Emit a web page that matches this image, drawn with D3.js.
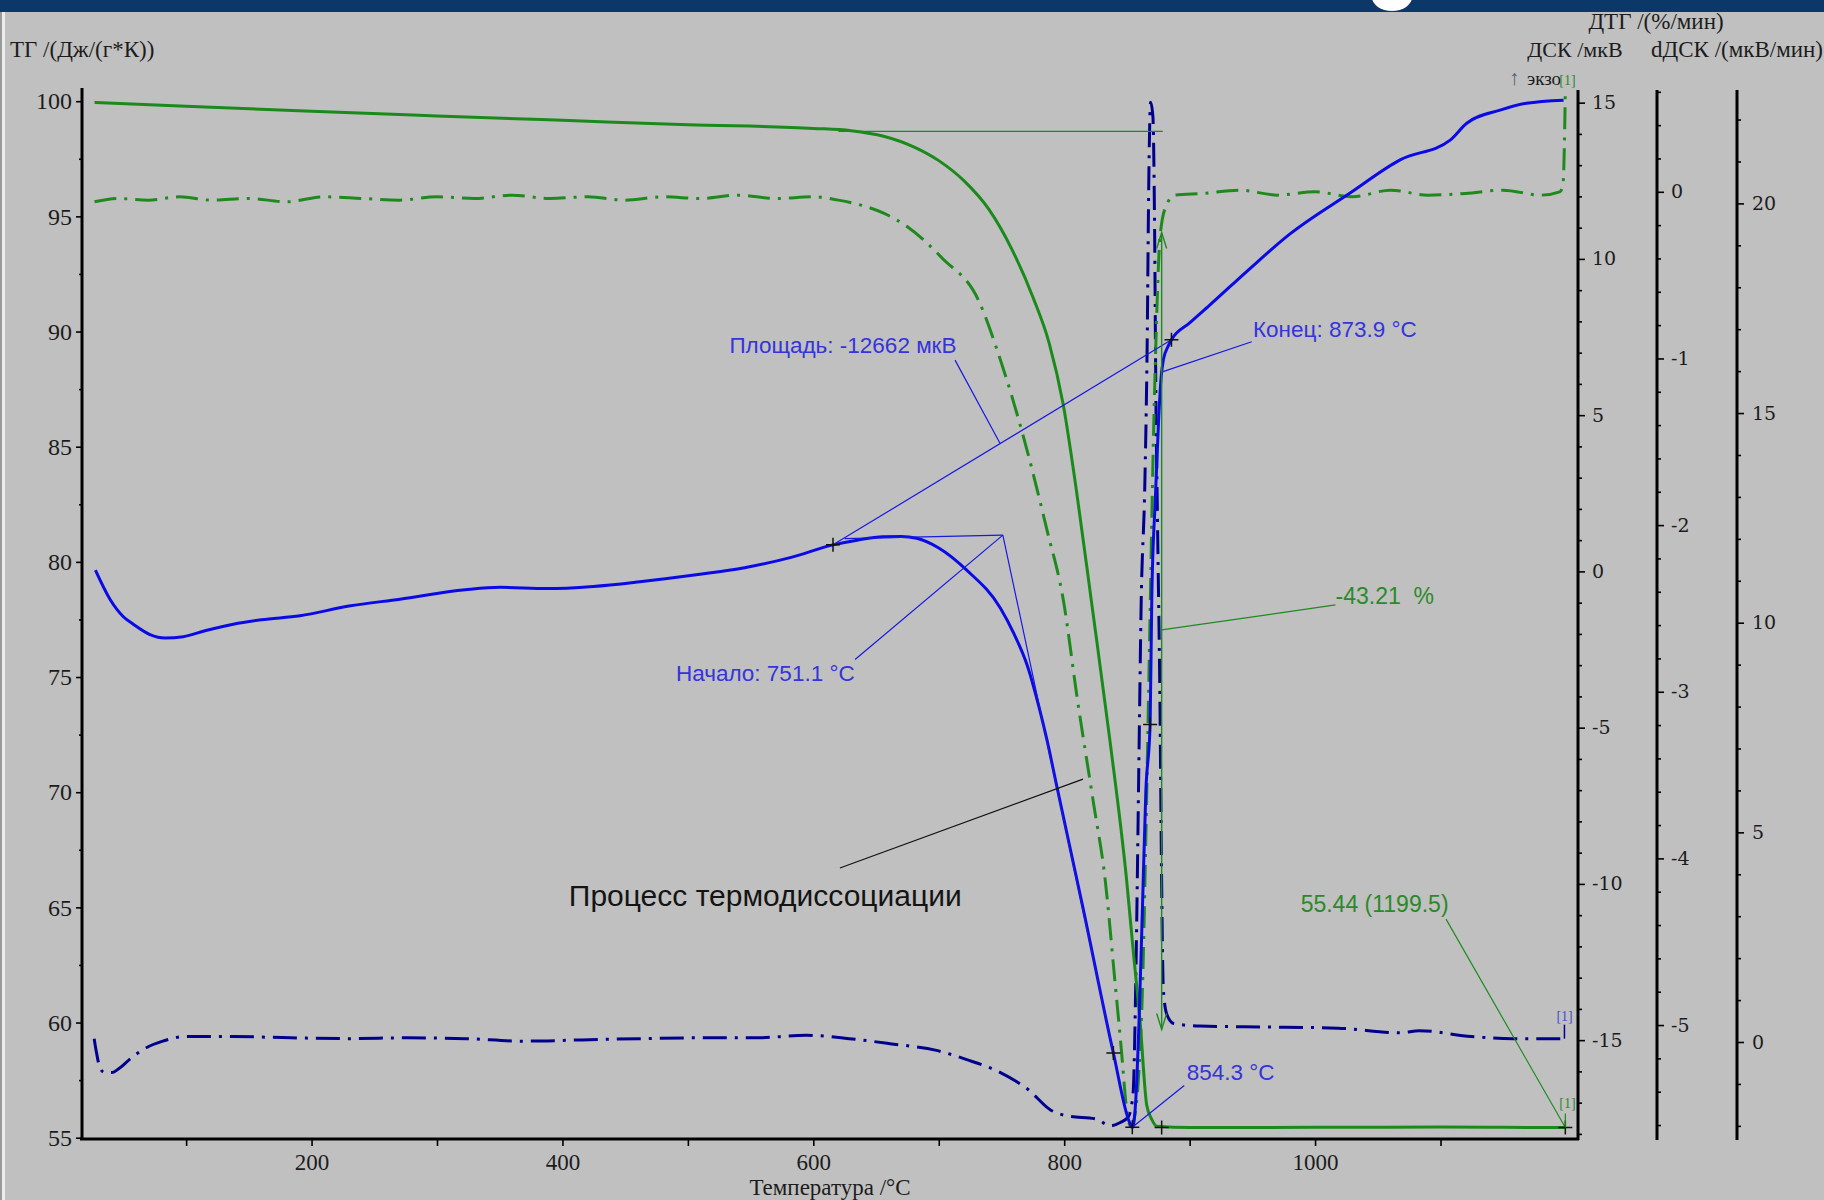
<!DOCTYPE html>
<html><head><meta charset="utf-8">
<script src="https://cdn.jsdelivr.net/npm/d3@7/dist/d3.min.js"></script>
<style>html,body{margin:0;padding:0;background:#c0c0c0;}svg{display:block;}</style>
</head><body><svg id="c" width="1824" height="1200"></svg>
<script>
// ---------------- DATA ----------------
// Temperature (°C) vs value pairs
const tgData = [[27,99.95],[100,99.78],[200,99.56],[300,99.36],[400,99.17],[500,98.98],[600,98.82],[630,98.72],[656,98.48],[680,98.02],[700,97.42],[720,96.55],[740,95.3],[758,93.6],[775,91.5],[788,89.5],[799,86.9],[810,83.0],[821.6,78.33],[836.4,72.27],[849.8,66.16],[855,63.13],[860.5,60.04],[865.8,56.41],[869.8,55.8],[873.8,55.5],[900,55.44],[1000,55.45],[1100,55.46],[1150,55.45],[1199.5,55.44]];
const dtgData = [[27,-0.06],[45,-0.04],[70,-0.05],[95,-0.03],[120,-0.05],[150,-0.04],[180,-0.06],[210,-0.03],[240,-0.04],[270,-0.05],[300,-0.03],[330,-0.04],[360,-0.02],[390,-0.04],[420,-0.03],[450,-0.05],[480,-0.03],[510,-0.04],[540,-0.02],[570,-0.04],[600,-0.03],[620,-0.05],[638,-0.08],[656.5,-0.13],[675,-0.21],[703,-0.4],[731.6,-0.65],[749.2,-1.01],[766.8,-1.45],[786.3,-2.03],[799.3,-2.45],[810.4,-3.04],[823.4,-3.67],[832.7,-4.13],[840.1,-4.71],[845.7,-5.16],[849.4,-5.48],[853.1,-5.61],[856.8,-5.52],[859.6,-5.27],[862.4,-4.78],[865.1,-3.87],[867.9,-2.76],[870.7,-1.64],[873.5,-0.8],[876.3,-0.28],[880.9,-0.09],[888.3,-0.02],[910,-0.01],[940,0.01],[970,-0.02],[1000,0.0],[1030,-0.03],[1060,0.01],[1090,-0.02],[1120,-0.01],[1150,0.01],[1180,-0.02],[1195,0.0],[1197.5,0.03],[1198.5,0.2],[1199.5,0.61]];
const dscData = [[27.7,0.04],[39.3,-0.89],[50,-1.45],[57.9,-1.69],[71.2,-2.02],[83.1,-2.13],[97.8,-2.09],[115,-1.9],[137.6,-1.69],[160,-1.55],[190.8,-1.42],[229.8,-1.11],[270.5,-0.89],[322.6,-0.59],[350.4,-0.51],[387.5,-0.55],[424.6,-0.48],[461.7,-0.33],[508.1,-0.1],[545.2,0.12],[582.3,0.45],[615.7,0.85],[635,1.0],[655.5,1.11],[670,1.12],[682.4,1.06],[700,0.75],[722.3,0.04],[749.2,-1.18],[760,-2.0],[770.5,-3.0],[780,-4.35],[786.3,-5.4],[793.7,-6.8],[815.1,-10.79],[839.2,-15.41],[852.2,-17.64],[854.5,-17.79],[856.8,-17.08],[859.6,-14.47],[862.4,-10.75],[865.1,-7.03],[868.5,-4.9],[869.8,-0.92],[872.6,2.28],[875.3,4.88],[877.2,6.18],[879.1,6.78],[882.7,7.19],[885.5,7.41],[900,7.95],[916,8.52],[948.3,9.7],[980,10.8],[1027.9,12.11],[1067.8,13.17],[1107.7,13.8],[1120.9,14.34],[1147.5,14.76],[1168.4,14.98],[1198.1,15.08]];
const ddscData = [[26.7,0.08],[28.6,-0.26],[31.4,-0.62],[35.1,-0.73],[40.6,-0.73],[47.1,-0.62],[55.5,-0.4],[67.5,-0.15],[81.4,0.02],[100,0.13],[137,0.13],[183.5,0.1],[229.8,0.08],[276.2,0.1],[322.6,0.08],[369,0.02],[415.3,0.05],[461.7,0.08],[508,0.1],[554.4,0.1],[594.3,0.16],[628.6,0.08],[661.1,-0.04],[698.2,-0.2],[722.3,-0.42],[749.2,-0.73],[771.5,-1.14],[789.1,-1.62],[802.1,-1.76],[826.2,-1.84],[836.4,-2.0],[844.7,-1.92],[851.2,-1.78],[854.9,-1.23],[857.7,2.66],[859.6,6.81],[861.4,10.53],[864.2,13.2],[866.1,16.53],[867.5,20.69],[868.9,22.41],[870.7,22.08],[872.1,19.3],[873,15.7],[874.4,12.37],[876.3,8.2],[877.6,4.04],[879,1.27],[881.8,0.66],[887.4,0.44],[907.8,0.38],[956,0.36],[1018.2,0.33],[1068.3,0.22],[1083,0.27],[1124.6,0.13],[1157.3,0.08],[1197.2,0.08]];

// tick labels
const xTicks = [200,400,600,800,1000];
const xMinorTicks = [100,300,500,700,900,1100];
const tgTicks = [55,60,65,70,75,80,85,90,95,100];
const dscTicks = [-15,-10,-5,0,5,10,15];
const dtgTicks = [-5,-4,-3,-2,-1,0];
const ddscTicks = [0,5,10,15,20];

// annotations (data units)
const dscSegments = [
  [[615.7,0.85],[885.5,7.41]],
  [[625,1.05],[751.1,1.16]],
  [[751.1,1.16],[839.2,-15.41]],
  [[633.3,-2.82],[751.1,1.16]],
  [[713,6.76],[748.8,4.10]],
  [[949.5,7.35],[876.4,6.36]],
  [[895.7,-16.45],[854.3,-17.79]]
];
const tgSegments = [
  [[620,98.69],[878.6,98.69]],
  [[877.7,77.05],[1016.3,78.13]],
  [[1104.4,64.49],[1199.5,55.44]]
];
const massArrow = [[877.7,94.3],[877.7,59.7]];
const processLeader = [[621.2,66.71],[815,70.57]];
const dscCrosses = [[615.7,0.85],[885.5,7.41],[839.2,-15.41],[868.5,-4.9],[854.3,-17.79]];
const tgCrosses = [[877.7,55.44],[1199.5,55.44]];
const dscLabels = [
  {t:533.1, v:7.23, text:"Площадь: -12662 мкВ"},
  {t:490.5, v:-3.27, text:"Начало: 751.1 °C"},
  {t:950.5, v:7.75, text:"Конец: 873.9 °C"},
  {t:897.6, v:-16.04, text:"854.3 °C"}
];
const tgLabels = [
  {t:1016.3, v:78.53, text:"-43.21\u00a0\u00a0%"},
  {t:988.5, v:65.15, text:"55.44 (1199.5)"}
];
const processLabel = {t:405.1, v:65.5, text:"Процесс термодиссоциации"};

// ---------------- CHART ----------------
const W = 1824, H = 1200;
const svg = d3.select('#c');
svg.append('rect').attr('width',W).attr('height',H).attr('fill','#c0c0c0');
// slide header strip
svg.append('rect').attr('width',W).attr('height',12).attr('fill','#0b3868');
svg.append('clipPath').attr('id','hdr').append('rect').attr('width',W).attr('height',12);
svg.append('ellipse').attr('clip-path','url(#hdr)').attr('cx',1392).attr('cy',-3).attr('rx',20).attr('ry',14).attr('fill','#ffffff');
// left frame line
svg.append('rect').attr('x',0).attr('y',12).attr('width',2).attr('height',H-12).attr('fill','#9a9a9a');
svg.append('rect').attr('x',2).attr('y',12).attr('width',3).attr('height',H-12).attr('fill','#ececec');

const x = d3.scaleLinear().domain([17,1209.6]).range([82,1578]);
const yTG = d3.scaleLinear().domain([55,100]).range([1137.7,101.2]);
const yDSC = d3.scaleLinear().domain([-15,15]).range([1040.15,102.65]);
const yDTG = d3.scaleLinear().domain([-5,0]).range([1025.05,191.8]);
const yDD = d3.scaleLinear().domain([0,20]).range([1042,203.4]);

const serif = "'Liberation Serif','Times New Roman',serif";
const serif2 = "'DejaVu Serif',Georgia,serif";
const sans = "'Liberation Sans',Arial,sans-serif";

function styleAxis(g, font, size){
  g.attr('font-family',font).attr('font-size',size);
  g.select('.domain').remove();
  g.selectAll('.tick line').attr('stroke','#000').attr('stroke-width',1.6);
  g.selectAll('.tick text').attr('fill','#1c1c1c');
}
function axisLine(x1,y1,x2,y2){
  svg.append('line').attr('x1',x1).attr('y1',y1).attr('x2',x2).attr('y2',y2)
    .attr('stroke','#000').attr('stroke-width',3);
}
const fmt = d => String(d);

// left axis (TG)
let g = svg.append('g').attr('transform','translate(82,0)');
g.call(d3.axisLeft(yTG).tickValues(tgTicks).tickSize(6).tickPadding(4).tickFormat(fmt));
styleAxis(g, serif, 24);
g = svg.append('g').attr('transform','translate(82,0)');
g.call(d3.axisLeft(yTG).tickValues(d3.range(57.5,100,5)).tickSize(3).tickFormat(''));
styleAxis(g, serif, 24);
axisLine(82,88,82,1140);

// bottom axis
g = svg.append('g').attr('transform','translate(0,1139)');
g.call(d3.axisBottom(x).tickValues(xTicks).tickSize(7).tickPadding(8).tickFormat(fmt));
styleAxis(g, serif, 23);
g = svg.append('g').attr('transform','translate(0,1139)');
g.call(d3.axisBottom(x).tickValues(xMinorTicks).tickSize(7).tickFormat(''));
styleAxis(g, serif, 23);
axisLine(80,1139,1579,1139);

// right axes
function rightAxis(xpos, scale, majors, minors, pad){
  let a = svg.append('g').attr('transform',`translate(${xpos},0)`);
  a.call(d3.axisRight(scale).tickValues(majors).tickSize(7).tickPadding(pad).tickFormat(fmt));
  styleAxis(a, serif2, 19);
  a = svg.append('g').attr('transform',`translate(${xpos},0)`);
  a.call(d3.axisRight(scale).tickValues(minors).tickSize(4).tickFormat(''));
  styleAxis(a, serif2, 19);
  axisLine(xpos,90,xpos,1140);
}
rightAxis(1578, yDSC, dscTicks, d3.range(-18,16,1).filter(v=>v%5!==0), 7);
rightAxis(1657, yDTG, dtgTicks, d3.range(-28,4,1).map(v=>v/5).filter(v=>Math.abs(v-Math.round(v))>1e-6), 7);
rightAxis(1737, yDD, ddscTicks, d3.range(-2,23,1).filter(v=>v%5!==0), 8);

// axis titles
function txt(xp, yp, s, font, size, fill, anchor){
  return svg.append('text').attr('x',xp).attr('y',yp).attr('font-family',font).attr('font-size',size)
    .attr('fill',fill).attr('text-anchor',anchor||'start').attr('dominant-baseline','central').text(s);
}
txt(10,49,'ТГ /(Дж/(г*К))',serif,23,'#1c1c1c');
txt(1656,21,'ДТГ /(%/мин)',serif,23,'#1c1c1c','middle');
txt(1575,49,'ДСК /мкВ',serif,22,'#1c1c1c','middle');
txt(1737,49,'dДСК /(мкВ/мин)',serif,23,'#1c1c1c','middle');
txt(1509,77,'↑',sans,21,'#50606e');
txt(1527,78,'экзо',serif,19,'#1c1c1c');
txt(830,1187,'Температура /°C',serif,23,'#1c1c1c','middle');

// curves
const line = sc => d3.line().x(d=>x(d[0])).y(d=>sc(d[1])).curve(d3.curveMonotoneX);
svg.append('path').datum(ddscData).attr('d',line(yDD)).attr('fill','none')
  .attr('stroke','#00008c').attr('stroke-width',3).attr('stroke-dasharray','24,8,3,8');
svg.append('path').datum(dtgData).attr('d',line(yDTG)).attr('fill','none')
  .attr('stroke','#1e8a1e').attr('stroke-width',3).attr('stroke-dasharray','22,8,3,8');
svg.append('path').datum(tgData).attr('d',line(yTG)).attr('fill','none')
  .attr('stroke','#1a8a1a').attr('stroke-width',3);
svg.append('path').datum(dscData).attr('d',line(yDSC)).attr('fill','none')
  .attr('stroke','#0a0ae6').attr('stroke-width',3);

// annotation lines
const seg = (p, sc, col, w) => svg.append('line')
  .attr('x1',x(p[0][0])).attr('y1',sc(p[0][1])).attr('x2',x(p[1][0])).attr('y2',sc(p[1][1]))
  .attr('stroke',col).attr('stroke-width',w||1.2);
dscSegments.forEach(p=>seg(p,yDSC,'#1818e0'));
tgSegments.forEach(p=>seg(p,yTG,'#1e8a1e'));
seg(processLeader,yTG,'#111',1.2);
seg(massArrow,yTG,'#1e8a1e',1.4);
// arrow heads
[[massArrow[0],-1],[massArrow[1],1]].forEach(([p,dir])=>{
  const ax = x(p[0]), ay = yTG(p[1]);
  svg.append('path').attr('d',`M${ax-5},${ay-dir*16}L${ax},${ay}L${ax+5},${ay-dir*16}`)
    .attr('fill','none').attr('stroke','#1e8a1e').attr('stroke-width',1.4);
});
// crosses
const cross = (p, sc) => {
  const cx = x(p[0]), cy = sc(p[1]);
  svg.append('path').attr('d',`M${cx-7},${cy}H${cx+7}M${cx},${cy-7}V${cy+7}`)
    .attr('stroke','#111').attr('stroke-width',1.5);
};
dscCrosses.forEach(p=>cross(p,yDSC));
tgCrosses.forEach(p=>cross(p,yTG));

// labels
dscLabels.forEach(l=>txt(x(l.t),yDSC(l.v),l.text,sans,22.5,'#3434dc'));
tgLabels.forEach(l=>txt(x(l.t),yTG(l.v),l.text,sans,23,'#2a8a2a'));
txt(x(processLabel.t),yTG(processLabel.v),processLabel.text,sans,30,'#141414');

// curve end markers [1]
const endD = ddscData[ddscData.length-1];
svg.append('line').attr('x1',x(endD[0])+2).attr('x2',x(endD[0])+2).attr('y1',yDD(endD[1])).attr('y2',yDD(endD[1])-14).attr('stroke','#00008c').attr('stroke-width',1.5);
txt(x(endD[0])-6,yDD(endD[1])-22,'[1]',serif,14,'#4a4ad0');
const endT = tgData[tgData.length-1];
svg.append('line').attr('x1',x(endT[0])).attr('x2',x(endT[0])).attr('y1',yTG(endT[1])).attr('y2',yTG(endT[1])-14).attr('stroke','#1e8a1e').attr('stroke-width',1.2);
txt(x(endT[0])-6,yTG(endT[1])-24,'[1]',serif,14,'#2a8a2a');
const endG = dtgData[dtgData.length-1];
txt(x(endG[0])-6,yDTG(endG[1])-10,'[1]',serif,14,'#2a8a2a');
</script></body></html>
